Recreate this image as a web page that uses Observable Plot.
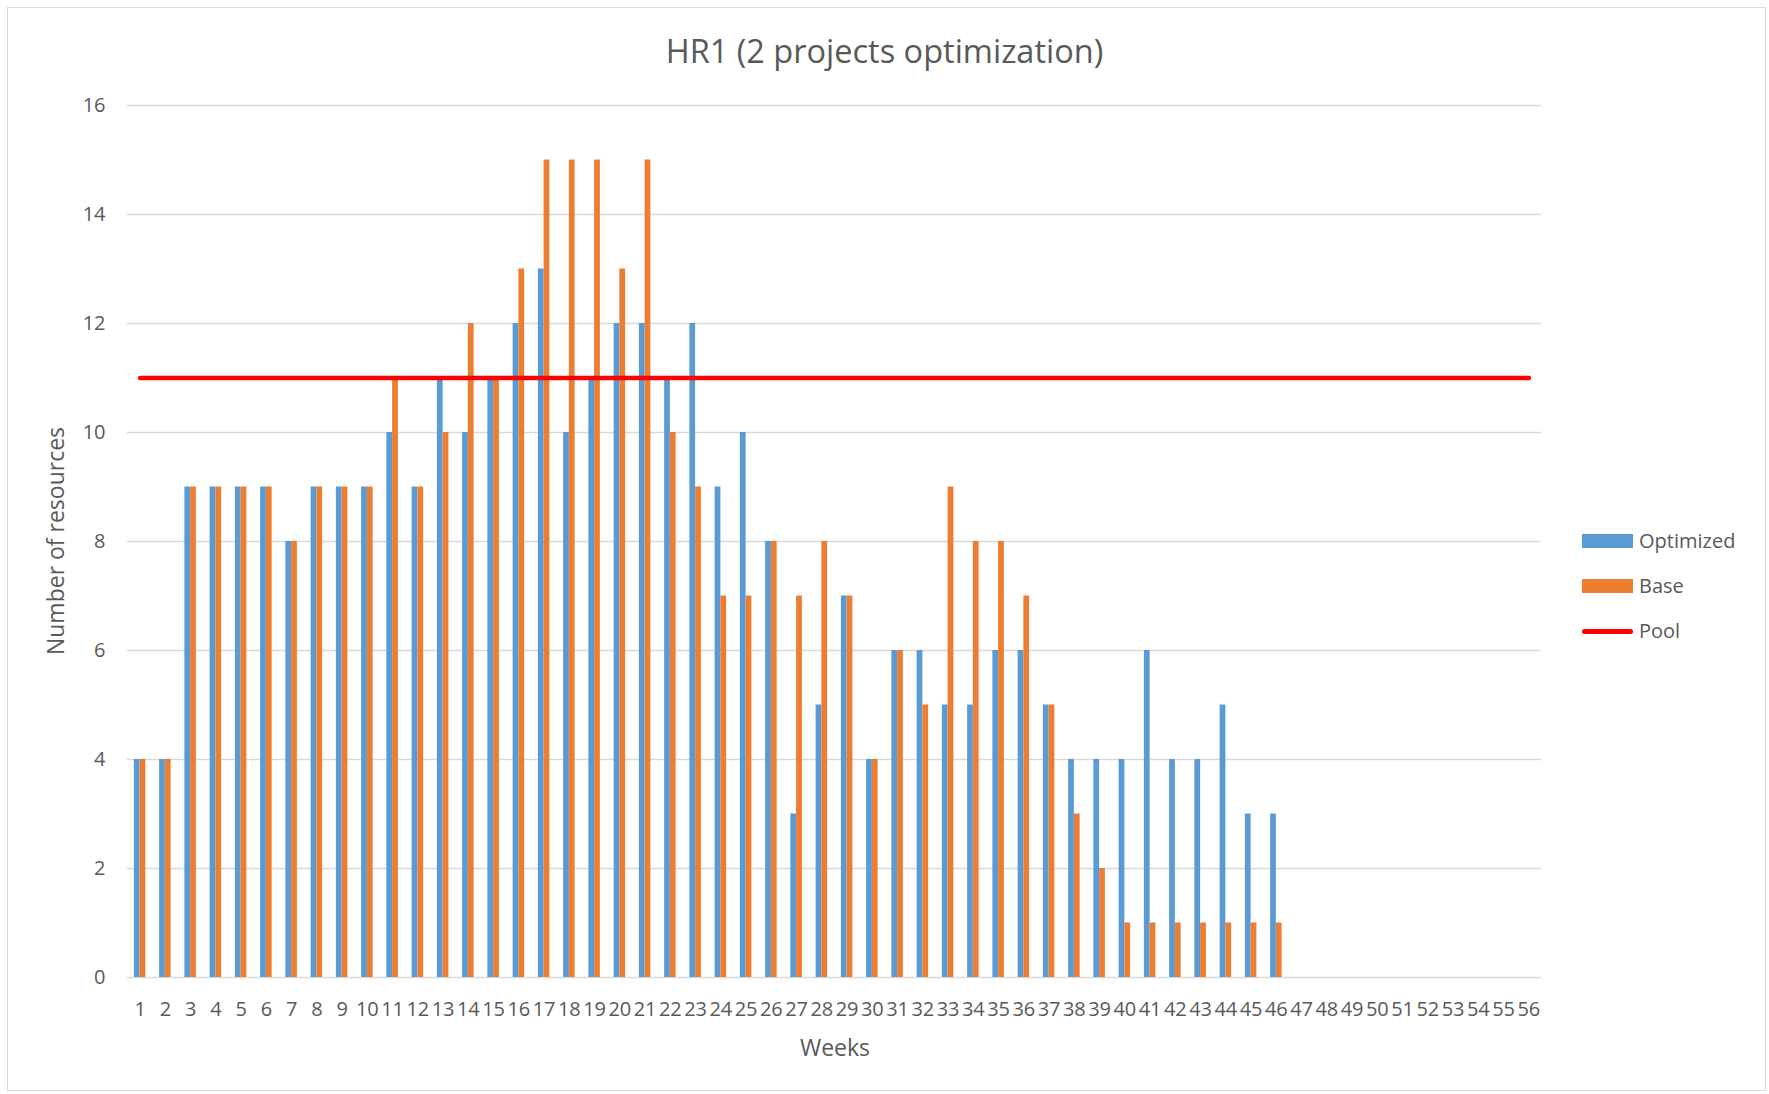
<!DOCTYPE html>
<html>
<head>
<meta charset="utf-8">
<script src="https://cdn.jsdelivr.net/npm/d3@7"></script>
<script src="https://cdn.jsdelivr.net/npm/@observablehq/plot@0.6"></script>
<style>
  html, body { margin: 0; padding: 0; background: #fff; }
  #wrap { position: relative; width: 1769px; height: 1094px; font-family: "Open Sans", sans-serif; color: #595959; overflow: hidden; }
  #border { position: absolute; left: 7px; top: 7px; width: 1759px; height: 1084px; border: 1px solid #d9d9d9; box-sizing: border-box; }
  #title { position: absolute; left: 0; top: 35px; width: 1769px; text-align: center; font-size: 32.5px; line-height: 32px; }
  #chart { position: absolute; left: 0; top: 80px; }
  #xtitle { position: absolute; left: 735px; width: 200px; top: 1036px; text-align: center; font-size: 23px; line-height: 22px; }
  #ytitle { position: absolute; left: 55px; top: 541px; transform: translate(-50%, -50%) rotate(-90deg); white-space: nowrap; font-size: 23px; line-height: 22px; }
  #legend { position: absolute; left: 1582px; top: 527px; font-size: 20px; line-height: 28px; }
  .item { display: flex; align-items: center; height: 28px; margin-bottom: 17px; }
  .sw { width: 51px; height: 14px; margin-right: 6px; }
  .ln { width: 51px; height: 5px; border-radius: 3px; margin-right: 6px; background: #ff0000; }
</style>
</head>
<body>
<div id="wrap">
  <div id="border"></div>
  <div id="title">HR1 (2 projects optimization)</div>
  <div id="chart"></div>
  <div id="xtitle">Weeks</div>
  <div id="ytitle">Number of resources</div>
  <div id="legend"></div>
</div>
<script>
const weeks = d3.range(1, 57);
const optimized = [4,4,9,9,9,9,8,9,9,9,10,9,11,10,11,12,13,10,11,12,12,11,12,9,10,8,3,5,7,4,6,6,5,5,6,6,5,4,4,4,6,4,4,5,3,3,0,0,0,0,0,0,0,0,0,0];
const base      = [4,4,9,9,9,9,8,9,9,9,11,9,10,12,11,13,15,15,15,13,15,10,9,7,7,8,7,8,7,4,6,5,9,8,8,7,5,3,2,1,1,1,1,1,1,1,0,0,0,0,0,0,0,0,0,0];
const poolLevel = 11;
const yTicks = [0,2,4,6,8,10,12,14,16];
const seriesNames = ["Optimized", "Base", "Pool"];
const colors = {Optimized: "#5B9BD5", Base: "#ED7D31", Pool: "#FF0000"};

const rows = weeks.map((w, i) => ({week: w, optimized: optimized[i], base: base[i], pool: poolLevel}));

const W = 1769, H = 1014;
const mL = 127, mR = 228, mT = 25, mB = 117;
const pad = 0.545;
const bw = (W - mL - mR) / weeks.length * (1 - pad);

const plot = Plot.plot({
  width: W, height: H,
  marginLeft: mL, marginRight: mR, marginTop: mT, marginBottom: mB,
  style: {fontFamily: "Open Sans, sans-serif", fontSize: "20px", color: "#595959", background: "transparent"},
  x: {type: "band", domain: weeks, paddingInner: pad, paddingOuter: pad / 2, align: 0.5, round: false},
  y: {domain: [0, 16]},
  marks: [
    Plot.gridY(yTicks, {stroke: "#d9d9d9", strokeOpacity: 1, strokeWidth: 1.3}),
    Plot.barY(rows, {x: "week", y: "optimized", fill: colors.Optimized, insetRight: bw / 2}),
    Plot.barY(rows, {x: "week", y: "base", fill: colors.Base, insetLeft: bw / 2}),
    Plot.lineY(rows, {x: "week", y: "pool", stroke: colors.Pool, strokeWidth: 4.5}),
    Plot.axisX({tickSize: 0, tickPadding: 24, fontSize: 20, color: "#595959", label: null}),
    Plot.axisY({ticks: yTicks, tickSize: 0, tickPadding: 22, fontSize: 20, color: "#595959", label: null})
  ]
});
document.getElementById("chart").appendChild(plot);

const legend = document.getElementById("legend");
seriesNames.forEach(name => {
  const item = document.createElement("div");
  item.className = "item";
  const sw = document.createElement("div");
  sw.className = name === "Pool" ? "ln" : "sw";
  if (name !== "Pool") sw.style.background = colors[name];
  const t = document.createElement("span");
  t.textContent = name;
  item.appendChild(sw);
  item.appendChild(t);
  legend.appendChild(item);
});
</script>
</body>
</html>
